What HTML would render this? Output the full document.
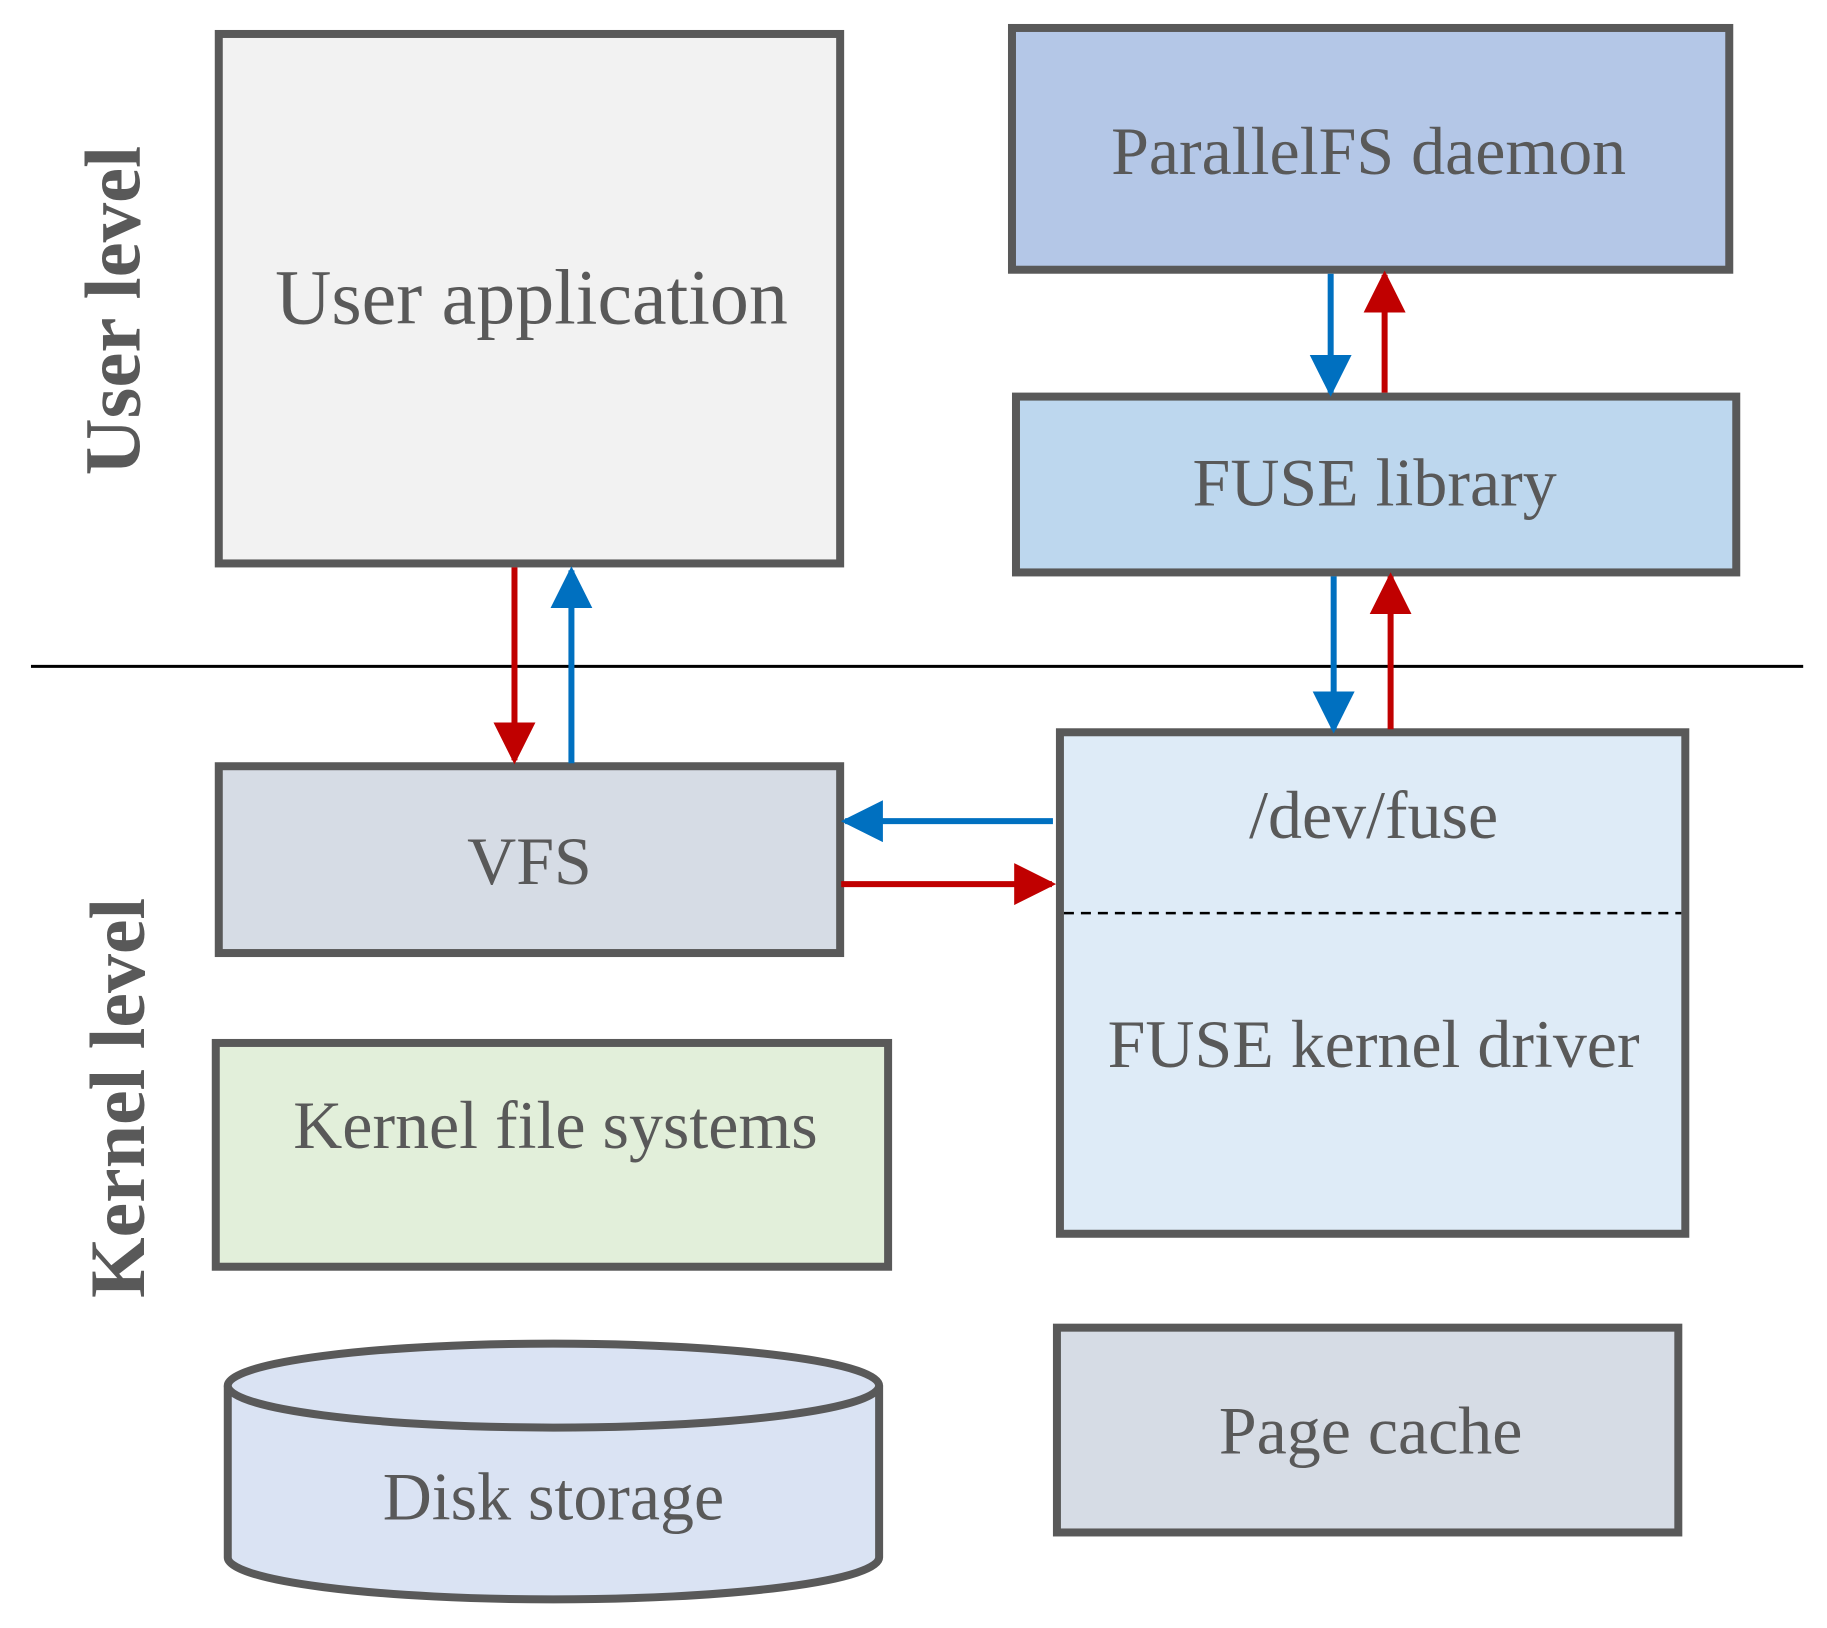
<!DOCTYPE html>
<html><head><meta charset="utf-8"><style>
html,body{margin:0;padding:0;background:#fff;}
svg{display:block;}
text{font-family:"Liberation Serif",serif;fill:#595959;}
</style></head><body>
<svg width="1827" height="1628" viewBox="0 0 1827 1628" xmlns="http://www.w3.org/2000/svg">
<defs>
<marker id="hb" viewBox="0 0 10 10" refX="9" refY="5" markerWidth="7" markerHeight="7" markerUnits="strokeWidth" orient="auto"><path d="M0,0 L10,5 L0,10 z" fill="#0070c0"/></marker>
<marker id="hr" viewBox="0 0 10 10" refX="9" refY="5" markerWidth="7" markerHeight="7" markerUnits="strokeWidth" orient="auto"><path d="M0,0 L10,5 L0,10 z" fill="#c00000"/></marker>
</defs>
<g transform="translate(-4,-1) scale(0.999)">
<g stroke="#595959" stroke-width="8">
<rect x="223" y="35" width="622" height="530" fill="#f2f2f2"/>
<rect x="1017" y="29" width="718" height="242" fill="#b4c7e7"/>
<rect x="1021" y="398" width="721" height="176" fill="#bdd7ee"/>
<rect x="223" y="768" width="622" height="187" fill="#d6dce5"/>
<rect x="1065" y="734" width="626" height="502" fill="#deebf7"/>
<rect x="220" y="1045" width="673" height="224" fill="#e2efda"/>
<rect x="1062" y="1330" width="622" height="205" fill="#d6dce5"/>
<path d="M232,1388 L232,1560 A326,42 0 0 0 884,1560 L884,1388" fill="#dae3f3"/>
<ellipse cx="558" cy="1388" rx="326" ry="42" fill="#dae3f3"/>
</g>
<line x1="35" y1="668" x2="1809" y2="668" stroke="#000" stroke-width="3"/>
<line x1="1069" y1="915" x2="1687" y2="915" stroke="#000" stroke-width="2.5" stroke-dasharray="10,7"/>
<g stroke-width="6">
<line x1="519" y1="569" x2="519" y2="762" stroke="#c00000" marker-end="url(#hr)"/>
<line x1="576" y1="765" x2="576" y2="572" stroke="#0070c0" marker-end="url(#hb)"/>
<line x1="1336" y1="275" x2="1336" y2="394" stroke="#0070c0" marker-end="url(#hb)"/>
<line x1="1390" y1="394" x2="1390" y2="276" stroke="#c00000" marker-end="url(#hr)"/>
<line x1="1339" y1="578" x2="1339" y2="731" stroke="#0070c0" marker-end="url(#hb)"/>
<line x1="1396" y1="731" x2="1396" y2="578" stroke="#c00000" marker-end="url(#hr)"/>
<line x1="1058" y1="823" x2="850" y2="823" stroke="#0070c0" marker-end="url(#hb)"/>
<line x1="846" y1="886" x2="1057" y2="886" stroke="#c00000" marker-end="url(#hr)"/>
</g>
<g text-anchor="middle" dominant-baseline="central" font-size="68">
<text x="536" y="299" font-size="78">User application</text>
<text x="1374" y="152">ParallelFS daemon</text>
<text x="1380" y="484">FUSE library</text>
<text x="534" y="863">VFS</text>
<text x="1379" y="817">/dev/fuse</text>
<text x="1379" y="1046">FUSE kernel driver</text>
<text x="560" y="1127">Kernel file systems</text>
<text x="558" y="1499">Disk storage</text>
<text x="1376" y="1433">Page cache</text>
<text transform="translate(118,312) rotate(-90)" font-weight="bold" font-size="79">User level</text>
<text transform="translate(122,1100) rotate(-90)" font-weight="bold" font-size="78">Kernel level</text>
</g>
</g>
</svg>
</body></html>
